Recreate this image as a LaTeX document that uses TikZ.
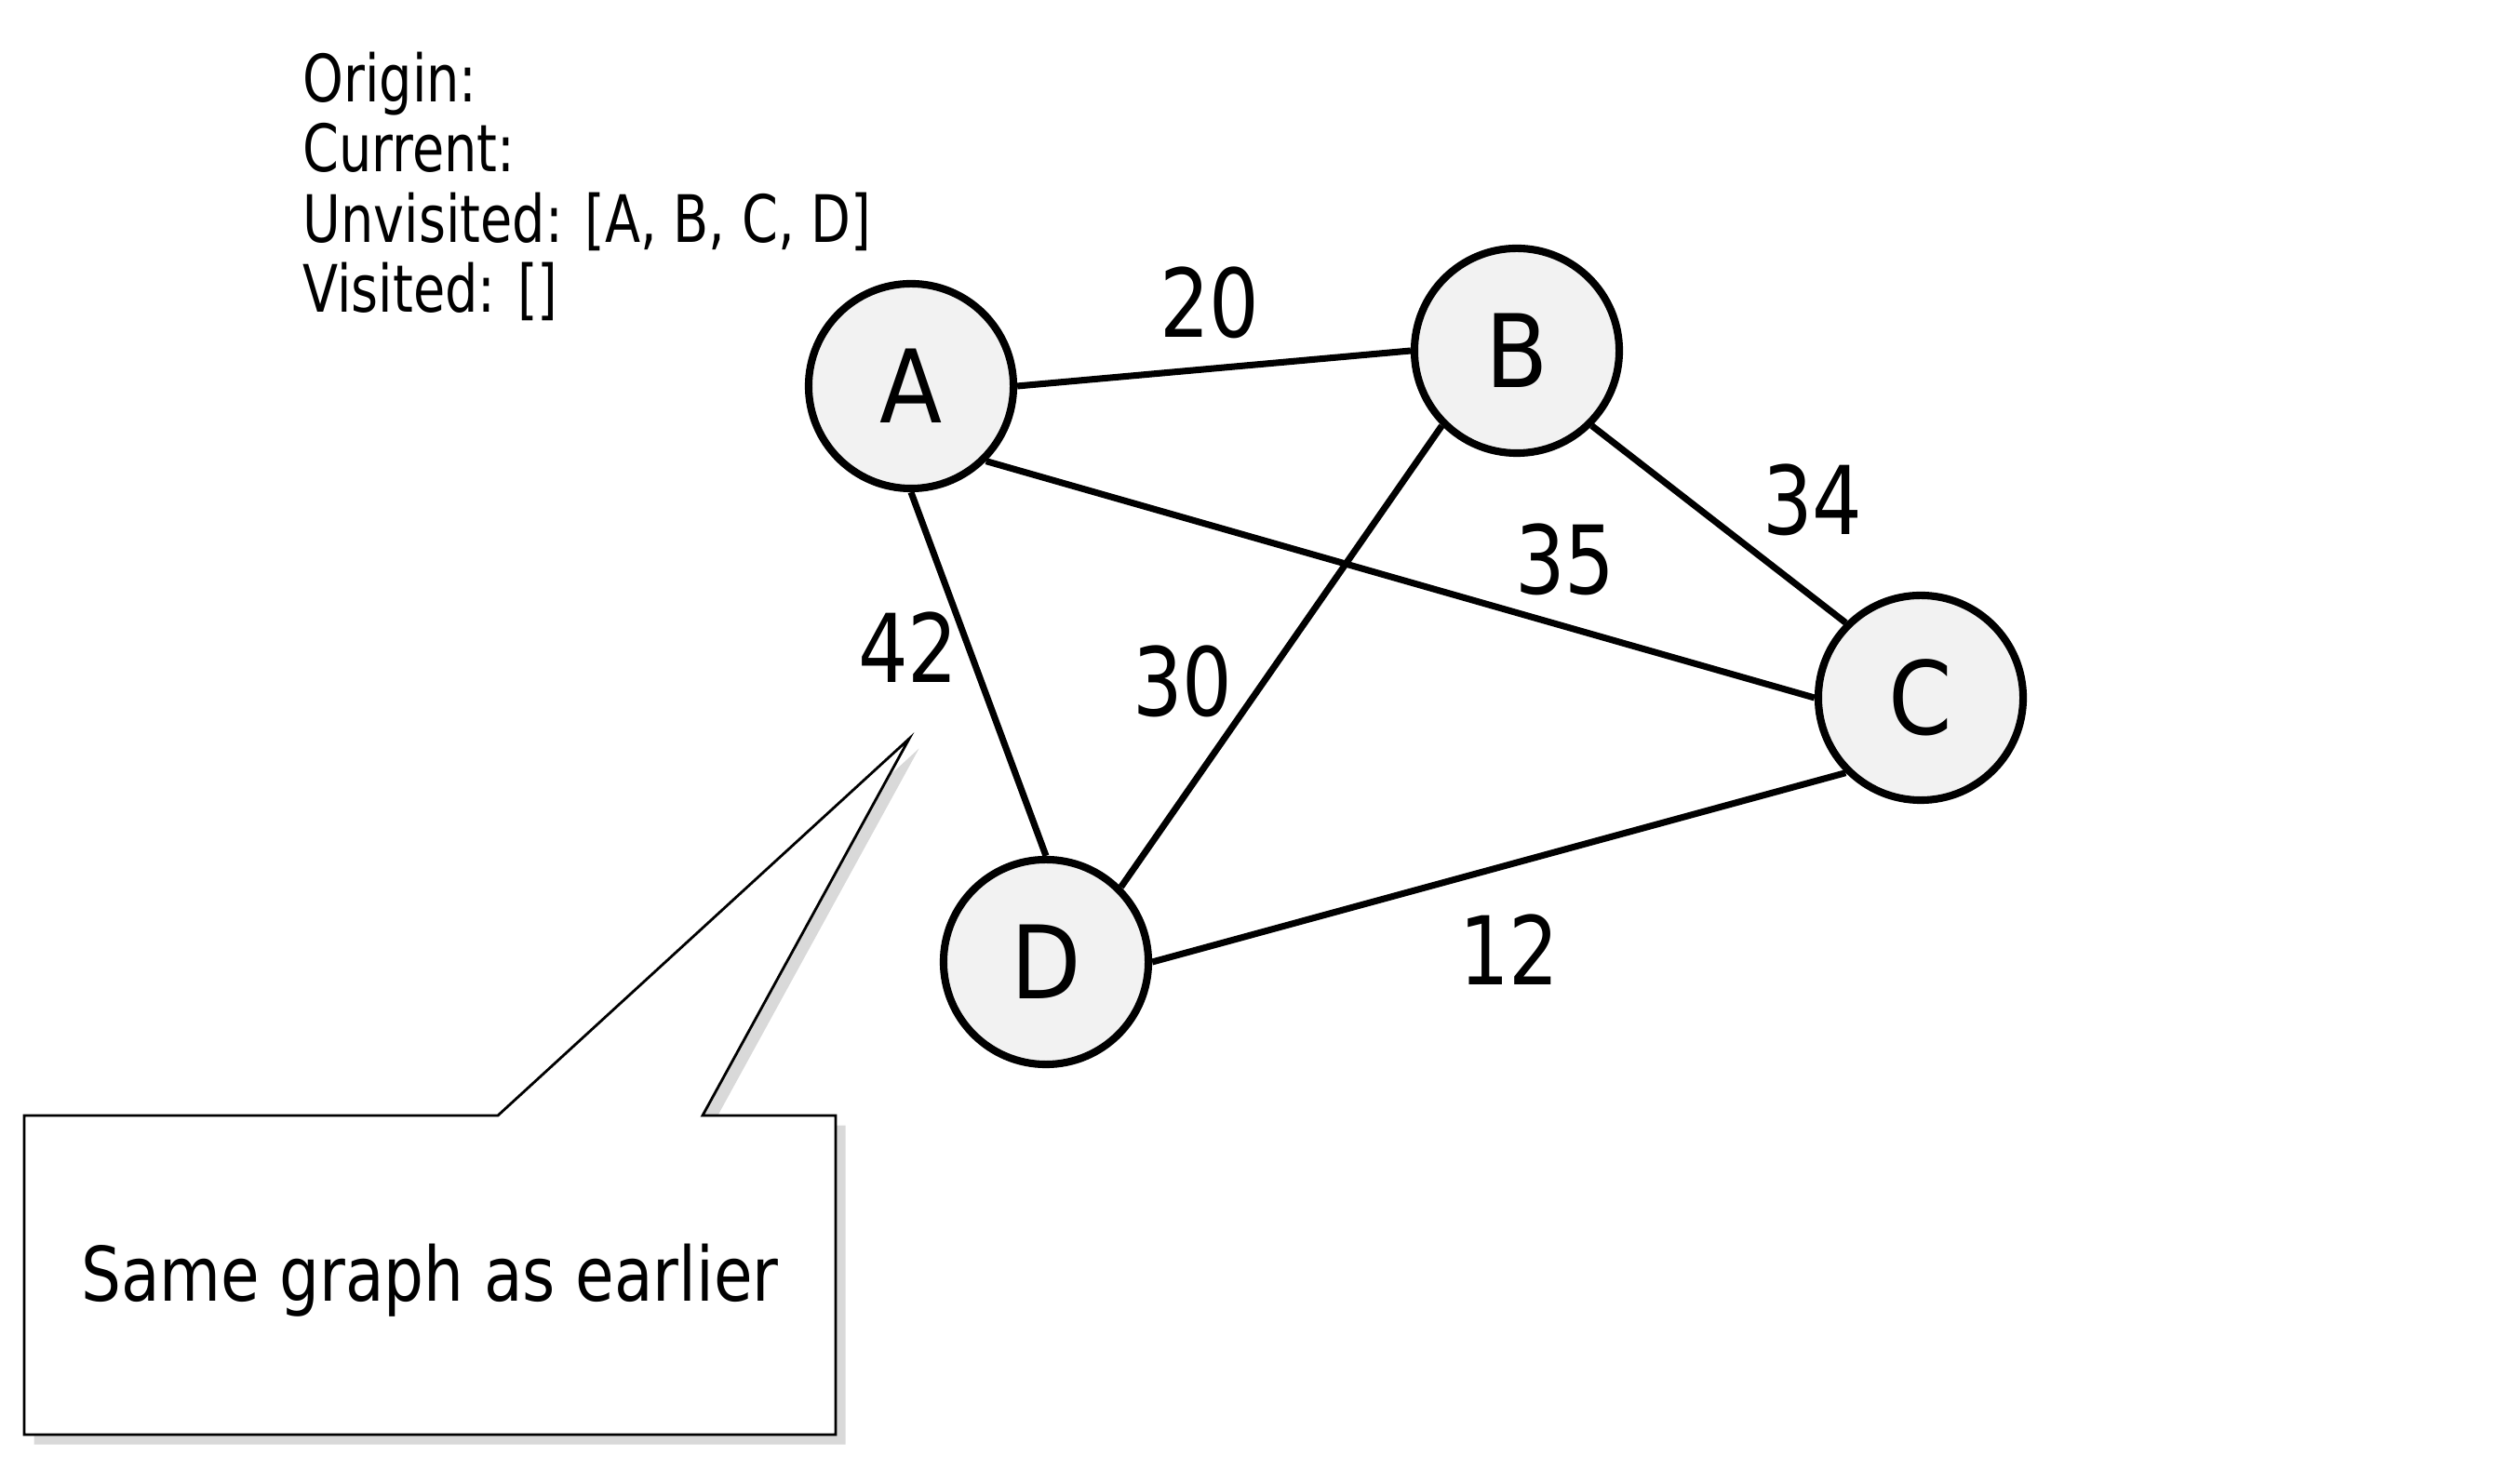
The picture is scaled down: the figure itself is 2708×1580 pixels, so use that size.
\documentclass[tikz,border=0pt]{standalone}
\usepackage{fontspec}
\setmainfont{DejaVu Sans Condensed}
\newfontfamily\infofont{DejaVu Sans Condensed}[FakeStretch=0.88]
\newfontfamily\notefont{DejaVu Sans Condensed}[FakeStretch=0.93]
\newfontfamily\numfont{DejaVu Sans Condensed}[FakeStretch=0.92]
\usetikzlibrary{shadows}
\begin{document}
\begin{tikzpicture}[x=0.01cm,y=-0.01cm,
  vert/.style={circle,draw=black,line width=2.3pt,fill=gray!10,minimum size=2.2cm,inner sep=0pt,font=\fontsize{31}{36}\selectfont},
  edge/.style={line width=2pt},
  wlabel/.style={font=\numfont\fontsize{29}{34}\selectfont,inner sep=0pt},
  infotext/.style={font=\infofont\fontsize{20}{21.5}\selectfont,align=left,inner sep=0pt,anchor=north west},
  callout/.style={draw=black,line width=0.8pt,fill=white,drop shadow={shadow xshift=3pt,shadow yshift=-3pt,opacity=0.3}}
]
\useasboundingbox (0,0) rectangle (2708,1580);
\node[infotext] (info) at (325,55) {Origin:\\Current:\\Unvisited: [A, B, C, D]\\Visited: []};
\node[vert] (A) at (979,415) {A};
\node[vert] (B) at (1630,377) {B};
\node[vert] (C) at (2064,750) {C};
\node[vert] (D) at (1124,1034) {D};
\draw[edge] (A.east) -- (B.west);
\draw[edge] (A.south east) -- (C.west);
\draw[edge] (A.south) -- (D.north);
\draw[edge] (B.south east) -- (C.north west);
\draw[edge] (B.south west) -- (D.north east);
\draw[edge] (D.east) -- (C.south west);
\node[wlabel] (l20) at (1300,325) {20};
\node[wlabel] (l34) at (1948,537) {34};
\node[wlabel] (l35) at (1682,601) {35};
\node[wlabel] (l42) at (976,696) {42};
\node[wlabel] (l30) at (1271,732) {30};
\node[wlabel] (l12) at (1622,1021) {12};
\coordinate (tip) at (977,794);
\path[callout] (26,1199) -- (535,1199) -- (tip) -- (755,1199) -- (898,1199) -- (898,1542) -- (26,1542) -- cycle;
\node[font=\notefont\fontsize{23}{28}\selectfont,inner sep=0pt] (note) at (462,1376) {Same graph as earlier};
\end{tikzpicture}
\end{document}
